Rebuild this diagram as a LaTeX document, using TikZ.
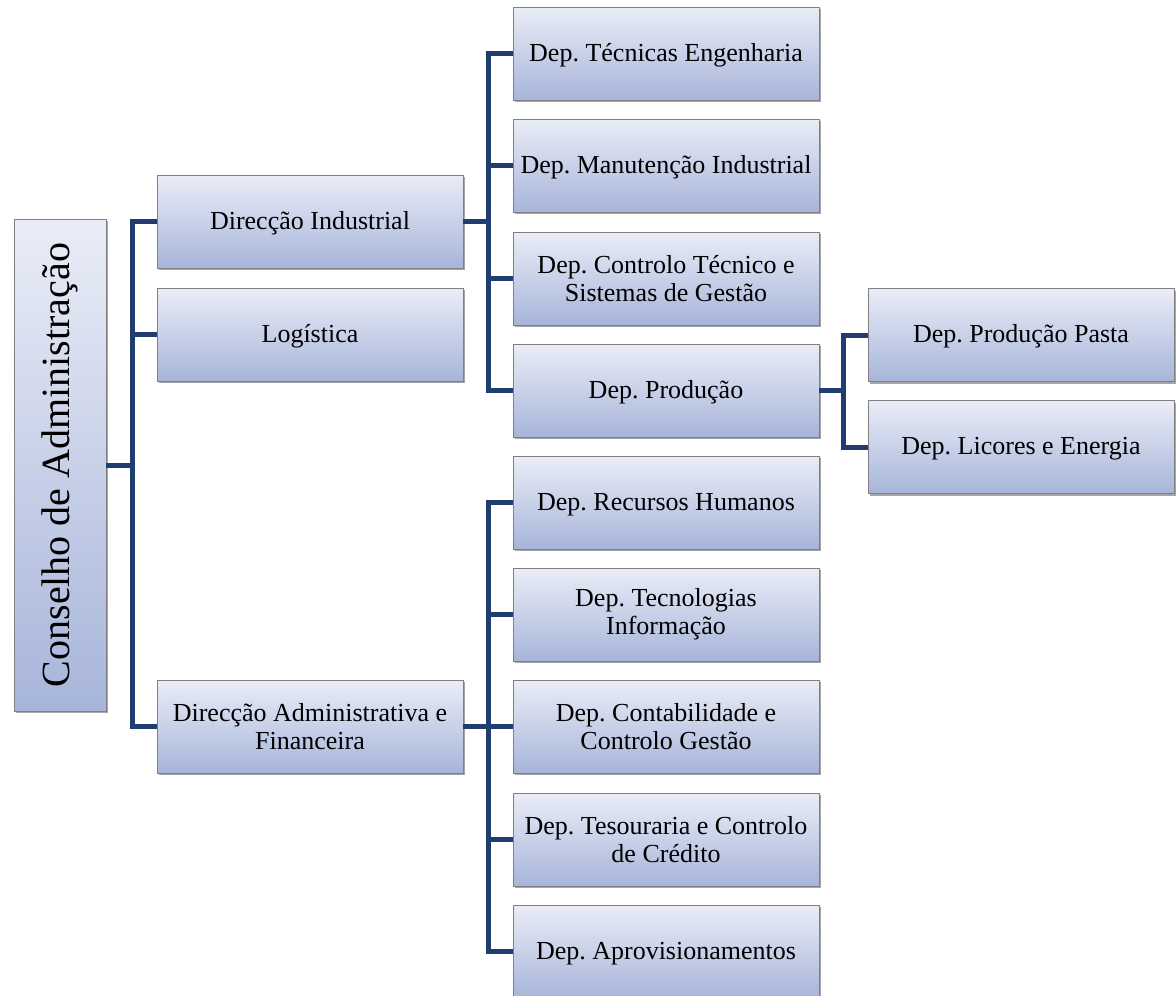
\documentclass[tikz,border=0pt]{standalone}
\usepackage{fontspec}
\usepackage{graphicx}
\setmainfont{Liberation Serif}
\usetikzlibrary{shadows}
\frenchspacing

\definecolor{boxtop}{RGB}{234,237,247}
\definecolor{boxbot}{RGB}{167,181,218}
\definecolor{linkc}{RGB}{31,61,110}
\definecolor{rimc}{RGB}{128,128,128}

\begin{document}
\begin{tikzpicture}[x=1pt,y=-1pt,
  unitbox/.style={draw=rimc, line width=0.8pt, top color=boxtop, bottom color=boxbot,
    minimum width=306pt, minimum height=93pt, inner sep=2pt, outer sep=0pt,
    align=center, font=\fontsize{26}{28}\selectfont,
    drop shadow={shadow xshift=2pt, shadow yshift=-2pt, opacity=0.35, fill=black}},
  oneline/.style={unitbox, text height=21pt, text depth=6pt},
  headbox/.style={unitbox, minimum width=92pt, minimum height=492pt},
  link/.style={draw=linkc, line width=5pt}]

\useasboundingbox (0,0) rectangle (1176,996);

% board
\node[headbox] (cons) at (60,465) {\rotatebox{90}{\fontsize{40}{44}\selectfont Conselho de Administração}};

% directorates
\node[oneline] (dind) at (310,221.5) {Direcção Industrial};
\node[oneline] (log)  at (310,334.5) {Logística};
\node[unitbox] (dadm) at (310,726.5) {Direcção Administrativa e\\Financeira};

% industrial departments
\node[oneline] (tec)  at (666,53.5)  {Dep. Técnicas Engenharia};
\node[oneline] (man)  at (666,165.5) {Dep. Manutenção Industrial};
\node[unitbox] (ctrl) at (666,278.5) {Dep. Controlo Técnico e\\Sistemas de Gestão};
\node[oneline] (prod) at (666,390.5) {Dep. Produção};

% production sub-departments
\node[oneline] (pasta) at (1021,335) {Dep. Produção Pasta};
\node[oneline] (lic)   at (1021,447) {Dep. Licores e Energia};

% administrative departments
\node[oneline] (rh)   at (666,502.5) {Dep. Recursos Humanos};
\node[unitbox] (ti)   at (666,614.5) {Dep. Tecnologias\\Informação};
\node[unitbox] (cont) at (666,726.5) {Dep. Contabilidade e\\Controlo Gestão};
\node[unitbox] (tes)  at (666,839.5) {Dep. Tesouraria e Controlo\\de Crédito};
\node[oneline] (apr)  at (666,951.5) {Dep. Aprovisionamentos};

% connectors
\foreach \c in {dind,log,dadm}
  \draw[link] (cons.east) -- ++(26,0) |- (\c.west);
\foreach \c in {tec,man,ctrl,prod}
  \draw[link] (dind.east) -- ++(25,0) |- (\c.west);
\foreach \c in {rh,ti,cont,tes,apr}
  \draw[link] (dadm.east) -- ++(25,0) |- (\c.west);
\foreach \c in {pasta,lic}
  \draw[link] (prod.east) -- ++(24.5,0) |- (\c.west);

\end{tikzpicture}
\end{document}
